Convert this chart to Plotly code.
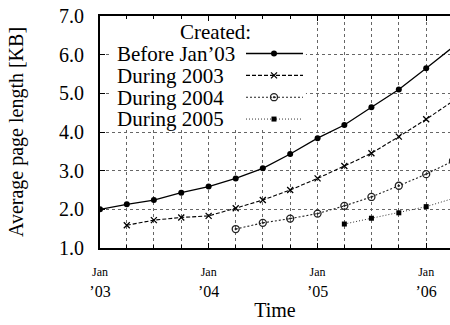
import plotly.graph_objects as go

# Quarterly sampling dates (last one lies just past the visible range)
quarters = [
    "2003-01-01", "2003-04-01", "2003-07-01", "2003-10-01",
    "2004-01-01", "2004-04-01", "2004-07-01", "2004-10-01",
    "2005-01-01", "2005-04-01", "2005-07-01", "2005-10-01",
    "2006-01-01", "2006-04-01",
]

# Average page length in KB, grouped by creation period
before_jan03 = [2.00, 2.13, 2.24, 2.43, 2.59, 2.80, 3.06, 3.43, 3.84, 4.18, 4.64, 5.10, 5.65, 6.20]
during_2003 = [None, 1.59, 1.72, 1.79, 1.83, 2.03, 2.24, 2.50, 2.80, 3.12, 3.45, 3.88, 4.33, 4.80]
during_2004 = [None, None, None, None, None, 1.49, 1.65, 1.76, 1.89, 2.09, 2.32, 2.61, 2.91, 3.25]
during_2005 = [None, None, None, None, None, None, None, None, None, 1.62, 1.77, 1.91, 2.07, 2.28]

series_names = ["Before Jan\u201903", "During 2003", "During 2004", "During 2005"]
series_values = [before_jan03, during_2003, during_2004, during_2005]
key_title = "Created:"

year_ticks = ["2003-01-01", "2004-01-01", "2005-01-01", "2006-01-01"]
year_labels = ["\u201903", "\u201904", "\u201905", "\u201906"]

FONT = "Liberation Serif"

styles = [
    dict(line=dict(color="black", width=1.3, dash="solid"),
         marker=dict(symbol="circle", size=6, color="black")),
    dict(line=dict(color="black", width=1.1, dash="4px,2px"),
         marker=dict(symbol="x-thin", size=6, color="black",
                     line=dict(color="black", width=1.3))),
    dict(line=dict(color="#222", width=1.1, dash="2px,2px"),
         marker=dict(symbol="circle-open-dot", size=7, color="#222",
                     line=dict(color="#222", width=1.3))),
    dict(line=dict(color="#333", width=1.0, dash="1px,2px"),
         marker=dict(symbol="square", size=5, color="black")),
]

fig = go.Figure()

for name, vals, st in zip(series_names, series_values, styles):
    fig.add_trace(go.Scatter(
        x=quarters, y=vals, name=name, mode="lines+markers",
        line=st["line"], marker=st["marker"], connectgaps=False,
        showlegend=False, cliponaxis=True,
    ))

# Key drawn on a pixel-scaled overlay (0..350 wide, 0..232 tall from top)
ROW_GAP = 21.85
key_rows = [37.5 + i * ROW_GAP for i in range(len(series_names))]
for row, st in zip(key_rows, styles):
    fig.add_trace(go.Scatter(
        x=[146, 203], y=[row, row], xaxis="x2", yaxis="y2",
        mode="lines", line=st["line"], showlegend=False, hoverinfo="skip",
    ))
    fig.add_trace(go.Scatter(
        x=[174], y=[row], xaxis="x2", yaxis="y2",
        mode="markers", marker=st["marker"], showlegend=False, hoverinfo="skip",
    ))

# Key text as one block: tight line pitch, larger glyphs per line
key_lines = ["\u00a0" * 12 + key_title] + series_names
key_text = "<br>".join(f"<span style='font-size:21px'>{s}</span>" for s in key_lines)
fig.add_annotation(
    x=15, y=key_rows[0] - ROW_GAP + (len(key_lines) - 1) * ROW_GAP / 2,
    xref="x2", yref="y2", text=key_text, showarrow=False, align="left",
    xanchor="left", yanchor="middle",
    font=dict(family=FONT, size=ROW_GAP / 1.3, color="black"),
)

# White key background hiding the grid behind it
fig.add_shape(
    type="rect", xref="x", yref="y", layer="between",
    x0="2003-02-10", x1="2004-11-23", y0=4.10, y1=6.95,
    fillcolor="white", line=dict(width=0),
)

tick_text = [f"<span style='font-size:12px'>Jan</span><br>{lab}" for lab in year_labels]

fig.update_layout(
    width=450, height=325,
    margin=dict(l=100, r=0, t=16, b=77),
    paper_bgcolor="white", plot_bgcolor="white",
    font=dict(family=FONT, size=20, color="black"),
    xaxis=dict(
        type="date", range=["2003-01-01", "2006-03-22"],
        tickvals=year_ticks, ticktext=tick_text,
        tickfont=dict(family=FONT, size=16, color="black"),
        ticks="inside", ticklen=5, tickcolor="black",
        ticklabelstandoff=7,
        showgrid=True, gridcolor="#666", griddash="dot", gridwidth=1,
        minor=dict(dtick="M3", tick0="2003-01-01", showgrid=True,
                   gridcolor="#666", griddash="dot", gridwidth=1,
                   ticks="inside", ticklen=3, tickcolor="black"),
        showline=True, linecolor="black", linewidth=2, mirror="ticks",
        zeroline=False,
        title=dict(text="Time", font=dict(family=FONT, size=20), standoff=4),
    ),
    yaxis=dict(
        range=[1, 7], dtick=1, tick0=1, tickformat=".1f",
        tickfont=dict(family=FONT, size=20, color="black"),
        ticks="inside", ticklen=5, tickcolor="black",
        ticklabelstandoff=10,
        showgrid=True, gridcolor="#666", griddash="dot", gridwidth=1,
        showline=True, linecolor="black", linewidth=2, mirror=False,
        zeroline=False,
        title=dict(text="Average page length [KB]", font=dict(family=FONT, size=20), standoff=30),
    ),
    xaxis2=dict(overlaying="x", range=[0, 350], visible=False, fixedrange=True),
    yaxis2=dict(overlaying="y", range=[232, 0], visible=False, fixedrange=True),
)

fig.write_html("out.html")
